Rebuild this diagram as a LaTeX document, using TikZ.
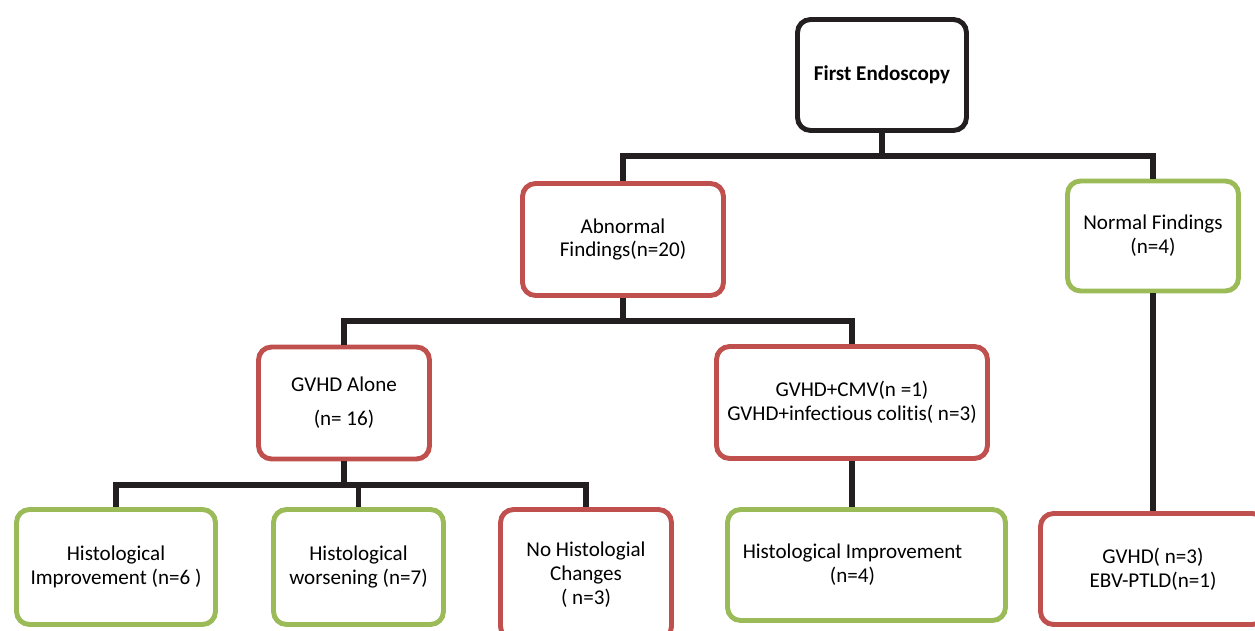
\documentclass[tikz,border=0pt]{standalone}
\usepackage{fontspec}
\setmainfont[Ligatures={NoCommon,NoRequired,NoContextual}]{Carlito}
\usepackage{xcolor}
\definecolor{boxred}{HTML}{C0504D}
\definecolor{boxgreen}{HTML}{9BBB59}
\definecolor{boxblack}{HTML}{231F20}

\begin{document}
\begin{tikzpicture}[x=0.02cm,y=-0.02cm,
    font=\fontsize{12}{13.6}\selectfont,
    box/.style={draw,line width=2.8pt,rounded corners=0.26cm,align=center,inner sep=2pt},
    redbox/.style={box,draw=boxred},
    greenbox/.style={box,draw=boxgreen},
    blackbox/.style={box,draw=boxblack},
    conn/.style={draw=boxblack,line width=3.3pt}]
    \useasboundingbox (0,0) rectangle (1255,631);
    \clip (0,0) rectangle (1255,631);
    % boxes
    \node[blackbox,minimum width=3.38cm,minimum height=2.22cm](first) at (882,75){\textbf{First Endoscopy}};
    \node[redbox,minimum width=4.02cm,minimum height=2.24cm](abn) at (623,239.5){Abnormal\\Findings(n=20)};
    \node[greenbox,minimum width=3.42cm,minimum height=2.2cm](norm) at (1153,236){Normal Findings\\(n=4)};
    \node[redbox,minimum width=3.42cm,minimum height=2.24cm](gvhd) at (344,403){GVHD Alone\\[0.2cm](n= 16)};
    \node[redbox,minimum width=5.42cm,minimum height=2.24cm](mixed) at (852,402.5){GVHD+CMV(n =1)\\GVHD+infectious colitis( n=3)};
    \node[greenbox,minimum width=3.98cm,minimum height=2.3cm](himp) at (116,567){Histological\\Improvement (n=6 )};
    \node[greenbox,minimum width=3.4cm,minimum height=2.3cm](hwor) at (358.5,567){Histological\\worsening (n=7)};
    \node[redbox,minimum width=3.42cm,minimum height=2.6cm](nochg) at (586,574.5){No Histologial\\Changes\\( n=3)};
    \node[greenbox,minimum width=5.56cm,minimum height=2.22cm](himpb) at (866.5,565){Histological Improvement\hspace*{0.56cm}\\(n=4)\hspace*{0.56cm}};
    \node[redbox,minimum width=4.5cm,minimum height=2.22cm](ebv) at (1153,569){GVHD( n=3)\\EBV-PTLD(n=1)};
    % junctions
    \coordinate (jfirst) at (882,156);
    \coordinate (jabn) at (623,321);
    \coordinate (jgvhd) at (344,485);
    % connectors
    \draw[conn](first)--(jfirst);
    \draw[conn](jfirst)-|(abn);
    \draw[conn](jfirst)-|(norm);
    \draw[conn](abn)--(jabn);
    \draw[conn](jabn)-|(gvhd);
    \draw[conn](jabn)-|(mixed);
    \draw[conn](gvhd)--(jgvhd);
    \draw[conn](jgvhd)-|(himp);
    \draw[conn](jgvhd)-|(hwor);
    \draw[conn](jgvhd)-|(nochg);
    \draw[conn](mixed.south)--(mixed.south|-himpb.north);
    \draw[conn](norm)--(ebv);
\end{tikzpicture}
\end{document}
